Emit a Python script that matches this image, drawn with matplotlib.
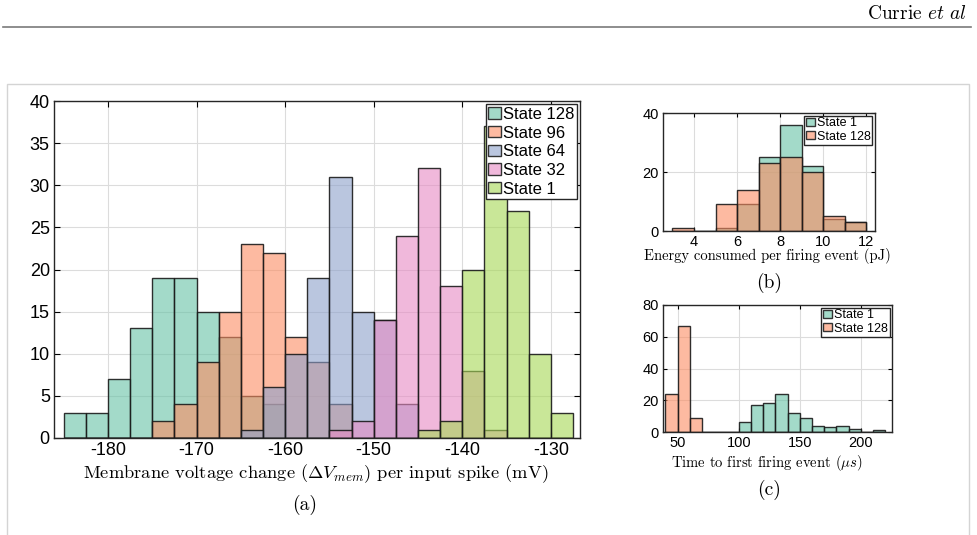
import numpy as np
import matplotlib.pyplot as plt
from matplotlib.colors import to_rgba
from matplotlib.patches import Rectangle, Patch
from matplotlib.lines import Line2D

plt.rcParams['font.family'] = ['Liberation Sans', 'DejaVu Sans']
plt.rcParams['mathtext.fontset'] = 'cm'
plt.rcParams['axes.unicode_minus'] = False

# Datos (a): cambio de voltaje de membrana, bins de 2.5 mV
edges_a = np.arange(-185, -127.5 + 0.01, 2.5)
state128_a = [3, 3, 7, 13, 19, 19, 15, 12, 5, 4, 0, 0, 0, 0, 0, 0, 0, 0, 0, 0, 0, 0, 0]
state96_a = [0, 0, 0, 0, 2, 4, 9, 15, 23, 22, 12, 9, 4, 0, 0, 0, 0, 0, 0, 0, 0, 0, 0]
state64_a = [0, 0, 0, 0, 0, 0, 0, 0, 1, 6, 10, 19, 31, 15, 14, 4, 0, 0, 0, 0, 0, 0, 0]
state32_a = [0, 0, 0, 0, 0, 0, 0, 0, 0, 0, 0, 0, 1, 2, 14, 24, 32, 18, 8, 1, 0, 0, 0]
state1_a = [0, 0, 0, 0, 0, 0, 0, 0, 0, 0, 0, 0, 0, 0, 0, 0, 1, 2, 20, 37, 27, 10, 3]
labels_a = ['State 128', 'State 96', 'State 64', 'State 32', 'State 1']

# Datos (b): energia por evento (pJ)
edges_b = np.arange(3, 12 + 0.01, 1)
state1_b = [0, 0, 1, 9, 25, 36, 22, 4, 3]
state128_b = [1, 0, 9, 14, 23, 25, 20, 5, 3]

# Datos (c): tiempo al primer evento (us)
edges_c = np.arange(40, 220 + 0.01, 10)
state1_c = [0, 0, 0, 0, 0, 0, 6, 17, 18, 24, 12, 9, 4, 3, 4, 2, 0, 1]
state128_c = [24, 67, 9, 0, 0, 0, 0, 0, 0, 0, 0, 0, 0, 0, 0, 0, 0, 0]

colors = ['#66c2a5', '#fc8d62', '#8da0cb', '#e78ac3', '#a6d854']

W, H = 977, 535
fig = plt.figure(figsize=(W / 100, H / 100), dpi=100)


def box(l, t, r, b):
    return [l / W, 1 - b / H, (r - l) / W, (b - t) / H]


def fx(px):
    return px / W


def fy(py):
    return 1 - py / H


def hist(ax, edges, counts, c):
    ax.hist(edges[:-1], bins=edges, weights=counts, histtype='bar',
            facecolor=to_rgba(c, 0.6), edgecolor=(0.1, 0.1, 0.1, 0.9),
            linewidth=1.0)


def style(ax, fs):
    ax.tick_params(direction='in', top=True, right=True, length=4,
                   width=0.8, labelsize=fs, pad=3)
    ax.grid(True, color='#dcdcdc', linewidth=0.8)
    ax.set_axisbelow(True)
    for s in ax.spines.values():
        s.set_color('#262626')
        s.set_linewidth(1.0)


def legend(ax, labels, cols, fs, spacing):
    handles = [Patch(facecolor=to_rgba(c, 0.6), edgecolor='#333333', linewidth=1.0)
               for c in cols]
    lg = ax.legend(handles, labels, loc='upper right', fontsize=fs,
                   handlelength=0.75, handleheight=0.65, handletextpad=0.12,
                   borderpad=0.15, labelspacing=spacing, borderaxespad=0.2,
                   fancybox=False, framealpha=1)
    lg.get_frame().set_edgecolor('#262626')
    lg.get_frame().set_linewidth(1.0)


# marco y cabecera
fig.add_artist(Rectangle((fx(7), fy(540)), fx(969) - fx(7), fy(84) - fy(540),
                         transform=fig.transFigure, fill=False,
                         edgecolor='#d4d4d4', linewidth=1.0))
fig.add_artist(Line2D([fx(3), fx(971)], [fy(27), fy(27)],
                      transform=fig.transFigure, color='#7a7a7a', linewidth=1.2))
fig.text(fx(967), fy(14), r'Currie $et\ al$', ha='right', va='center',
         fontsize=14, family='cmr10')

# (a)
ax1 = fig.add_axes(box(54, 101, 580, 438))
for counts, c in zip([state128_a, state96_a, state64_a, state32_a, state1_a], colors):
    hist(ax1, edges_a, counts, c)
ax1.set_xlim(-186.1, -126.7)
ax1.set_ylim(0, 40)
ax1.set_xticks(np.arange(-180, -129, 10))
ax1.set_yticks(np.arange(0, 41, 5))
style(ax1, 13)
legend(ax1, labels_a, colors, 12, 0.22)
fig.text(fx(316), fy(474), r'Membrane voltage change ($\Delta V_{mem}$) per input spike (mV)',
         ha='center', va='center', fontsize=13.3, family='cmr10')
fig.text(fx(305), fy(505), '(a)', ha='center', va='center', fontsize=14, family='cmr10')

# (b)
ax2 = fig.add_axes(box(663, 113, 875, 231))
hist(ax2, edges_b, state1_b, colors[0])
hist(ax2, edges_b, state128_b, colors[1])
ax2.set_xlim(2.56, 12.4)
ax2.set_ylim(0, 40)
ax2.set_xticks([4, 6, 8, 10, 12])
ax2.set_yticks([0, 20, 40])
style(ax2, 10.5)
ax2.tick_params(length=3)
legend(ax2, ['State 1', 'State 128'], colors[:2], 9, 0.1)
fig.text(fx(767), fy(256), 'Energy consumed per firing event (pJ)',
         ha='center', va='center', fontsize=10.5, family='cmr10')
fig.text(fx(769), fy(283), '(b)', ha='center', va='center', fontsize=14, family='cmr10')

# (c)
ax3 = fig.add_axes(box(663, 305, 892, 432))
hist(ax3, edges_c, state1_c, colors[0])
hist(ax3, edges_c, state128_c, colors[1])
ax3.set_xlim(38, 225.5)
ax3.set_ylim(0, 80)
ax3.set_xticks([50, 100, 150, 200])
ax3.set_yticks([0, 20, 40, 60, 80])
style(ax3, 10.5)
ax3.tick_params(length=3)
legend(ax3, ['State 1', 'State 128'], colors[:2], 9, 0.1)
fig.text(fx(767), fy(463), r'Time to first firing event ($\mu s$)',
         ha='center', va='center', fontsize=10.5, family='cmr10')
fig.text(fx(769), fy(490), '(c)', ha='center', va='center', fontsize=14, family='cmr10')

fig.savefig('out.png', dpi=100)
